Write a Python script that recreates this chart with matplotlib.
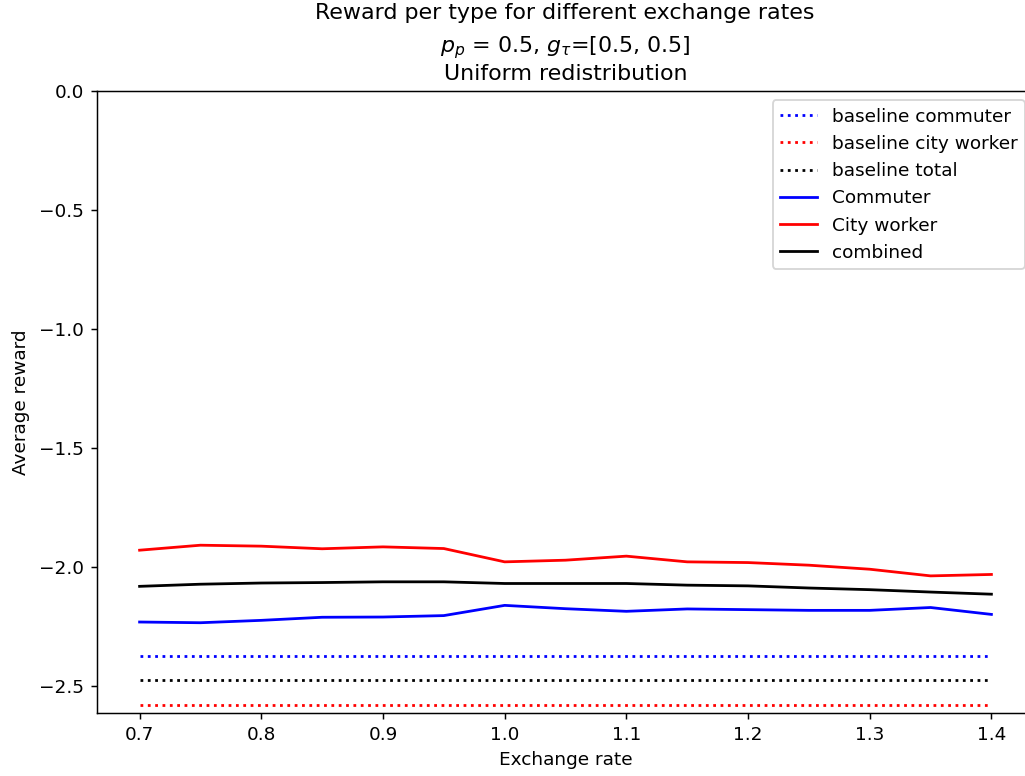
import numpy as np
import matplotlib
matplotlib.use("Agg")
import matplotlib.pyplot as plt

DPI = 133

exchange_rates = [0.7, 0.75, 0.8, 0.85, 0.9, 0.95, 1.0, 1.05, 1.1, 1.15, 1.2, 1.25, 1.3, 1.35, 1.4]

commuter = [-2.233, -2.236, -2.226, -2.213, -2.212, -2.206, -2.163, -2.177,
            -2.188, -2.178, -2.181, -2.184, -2.184, -2.172, -2.201]
city_worker = [-1.931, -1.910, -1.914, -1.925, -1.917, -1.924, -1.980, -1.973,
               -1.956, -1.980, -1.983, -1.994, -2.011, -2.039, -2.033]
combined = [-2.083, -2.074, -2.069, -2.067, -2.064, -2.064, -2.071, -2.071,
            -2.071, -2.078, -2.081, -2.090, -2.097, -2.107, -2.116]

baseline_commuter = -2.374
baseline_city_worker = -2.582
baseline_total = -2.478

fig = plt.figure(figsize=(1025 / DPI, 776 / DPI), dpi=DPI)
ax = fig.add_axes([97 / 1025, 1 - 713 / 776, (1034 - 97) / 1025, (713 - 91) / 776])

n = len(exchange_rates)
ax.plot(exchange_rates, [baseline_commuter] * n, ':', color='blue', label='baseline commuter')
ax.plot(exchange_rates, [baseline_city_worker] * n, ':', color='red', label='baseline city worker')
ax.plot(exchange_rates, [baseline_total] * n, ':', color='black', label='baseline total')
ax.plot(exchange_rates, commuter, color='blue', label='Commuter')
ax.plot(exchange_rates, city_worker, color='red', label='City worker')
ax.plot(exchange_rates, combined, color='black', label='combined')

ax.set_ylim(top=0)
ax.set_xlabel('Exchange rate')
ax.set_ylabel('Average reward', labelpad=5)

# title: first line sits a bit higher, like in the original
ax.set_title(r'$p_p$ = 0.5, $g_\tau$=[0.5, 0.5]' '\nUniform redistribution')
ax.annotate('Reward per type for different exchange rates', xy=(565 / 1025, 1 - 13 / 776),
            xycoords='figure fraction', ha='center', va='center', fontsize=12)
ax.legend(loc='upper right')

fig.savefig('out.png', dpi=DPI)
